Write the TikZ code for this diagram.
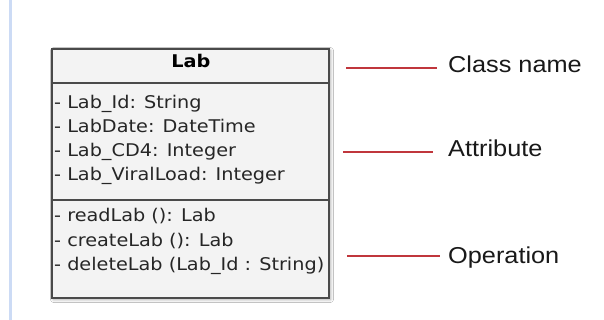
\documentclass[tikz,border=0pt]{standalone}
\usepackage{fontspec}
\usetikzlibrary{shadows.blur,calc}
\newfontfamily\umlfont[FakeStretch=1.1]{DejaVu Sans}
\newfontfamily\notefont[FakeStretch=1.1]{Liberation Sans}
\definecolor{boxfill}{HTML}{F3F3F3}
\definecolor{boxline}{HTML}{4A4A4A}
\definecolor{umltext}{HTML}{262626}
\definecolor{pointer}{HTML}{C0363C}
\definecolor{railblue}{HTML}{CCDBF5}
\begin{document}
\begin{tikzpicture}[x=1pt,y=-1pt,
  classbox/.style={draw=boxline, line width=1.3pt, fill=boxfill,
    minimum width=277pt, minimum height=249pt, inner sep=0pt,
    blur shadow={shadow xshift=1.5pt, shadow yshift=-1.5pt,
      shadow blur radius=3pt, shadow opacity=35}},
  divider/.style={draw=boxline, line width=1.3pt},
  member/.style={anchor=base west, inner sep=0pt, text=umltext,
    font=\umlfont\fontsize{17.5}{21}\selectfont},
  classtitle/.style={anchor=base, inner sep=0pt, text=black,
    font=\umlfont\bfseries\fontsize{17.5}{21}\selectfont},
  note/.style={anchor=base west, inner sep=0pt, text=black!90,
    font=\notefont\fontsize{23}{27}\selectfont},
  pointerline/.style={draw=pointer, line width=1.2pt}]
\useasboundingbox (0,0) rectangle (604,320);
\fill[white] (0,0) rectangle (604,320);
% thin rule down the left margin
\draw[railblue, line width=2.5pt] (10.5,0) -- (10.5,320);

% the class box with its three compartments
\node[classbox] (cls) at (190.5,173.5) {};
\draw[divider] (cls.west |- 0,83) -- (cls.east |- 0,83);
\draw[divider] (cls.west |- 0,200) -- (cls.east |- 0,200);

\node[classtitle] (title) at (191,68) {Lab};

\node[member] (a1) at (54,109) {- Lab\_Id: String};
\node[member] (a2) at (54,133) {- LabDate: DateTime};
\node[member] (a3) at (54,157) {- Lab\_CD4: Integer};
\node[member] (a4) at (54,181) {- Lab\_ViralLoad: Integer};

\node[member] (o1) at (54,222) {- readLab (): Lab};
\node[member] (o2) at (54,246) {- createLab (): Lab};
\node[member] (o3) at (54,270) {- deleteLab (Lab\_Id : String)};

% callouts on the right
\node[note] (n1) at (448,73) {Class name};
\node[note] (n2) at (448,157) {Attribute};
\node[note] (n3) at (448,263) {Operation};

\coordinate (p1) at (346,68);
\coordinate (p2) at (343,152);
\coordinate (p3) at (347,256);
\draw[pointerline, shorten >=11pt] (p1) -- (p1 -| n1.west);
\draw[pointerline, shorten >=15pt] (p2) -- (p2 -| n2.west);
\draw[pointerline, shorten >=8pt] (p3) -- (p3 -| n3.west);
\end{tikzpicture}
\end{document}
